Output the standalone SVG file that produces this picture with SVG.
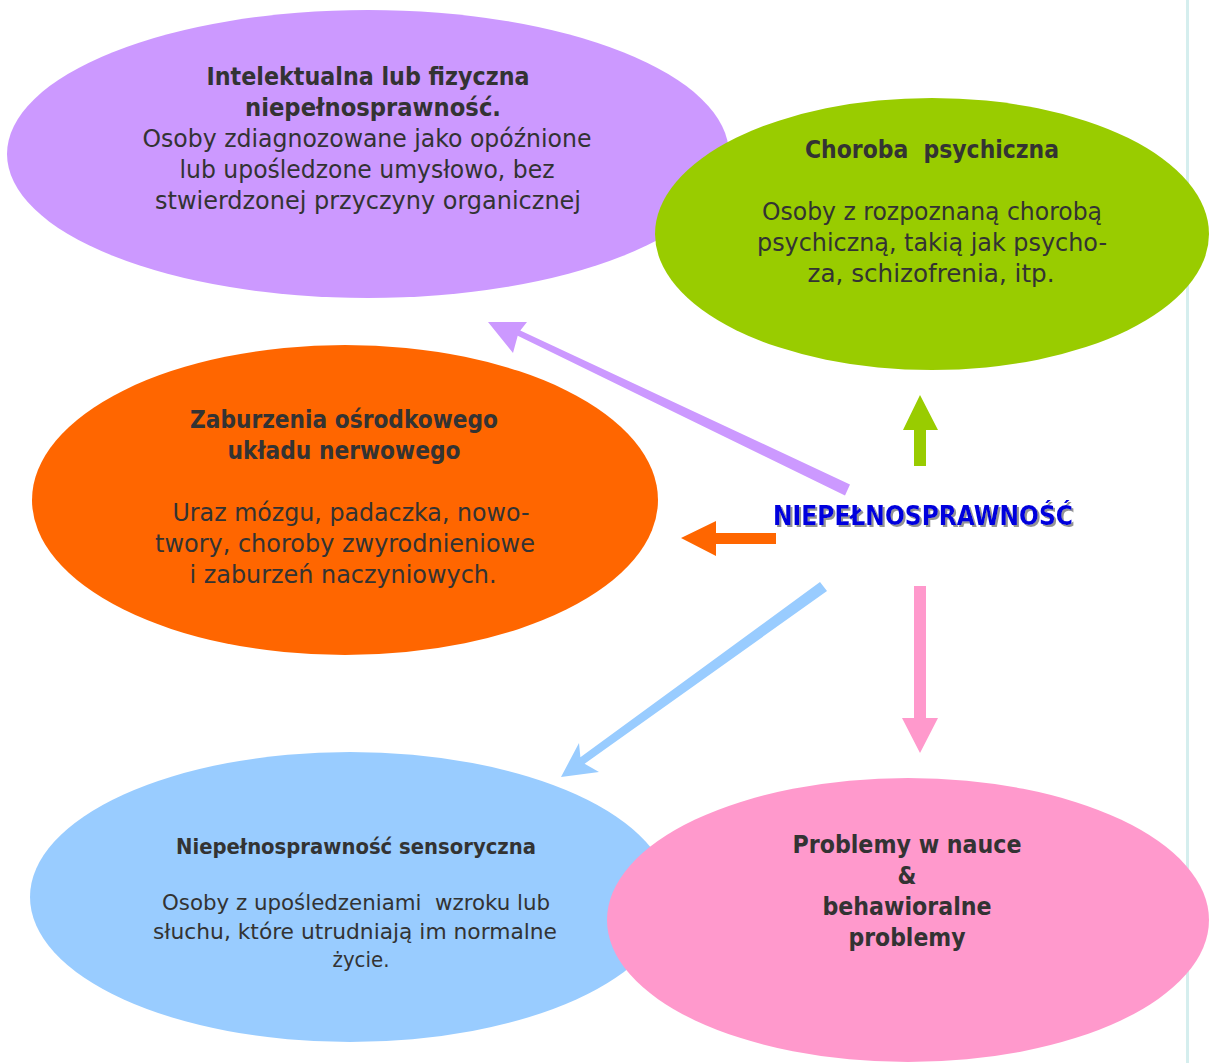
<svg xmlns="http://www.w3.org/2000/svg" width="1210" height="1063" viewBox="0 0 1210 1063">
  <defs>
    <style>
      .t { font-family: "DejaVu Sans Condensed", "DejaVu Sans", sans-serif; fill: #333333; text-anchor: middle; }
      .b { font-weight: bold; }
      .s24 { font-size: 24px; }
      .s25 { font-size: 25px; }
      .s21 { font-size: 21px; }
      .s22 { font-size: 22px; }
      .center { font-family: "DejaVu Sans Condensed", "DejaVu Sans", sans-serif; font-weight: bold; font-size: 26px; fill: #0000dd; text-anchor: middle; }
    </style>
    <filter id="shadow" x="-10%" y="-30%" width="120%" height="160%">
      <feDropShadow dx="2" dy="2" stdDeviation="0.6" flood-color="#888888" flood-opacity="0.9"/>
    </filter>
  </defs>
  <rect x="0" y="0" width="1210" height="1063" fill="#ffffff"/>
  <line x1="1187.5" y1="0" x2="1187.5" y2="1063" stroke="#d5eeee" stroke-width="3"/>

  <g id="node-intelektualna">
    <ellipse cx="368" cy="154" rx="361" ry="144" fill="#cc99ff"/>
    <text class="t b s24" x="368" y="85" textLength="323" lengthAdjust="spacingAndGlyphs">Intelektualna lub fizyczna</text>
    <text class="t b s24" x="373" y="116" textLength="256" lengthAdjust="spacingAndGlyphs">niepełnosprawność.</text>
    <text class="t s25" x="367" y="147" textLength="449" lengthAdjust="spacingAndGlyphs">Osoby zdiagnozowane jako opóźnione</text>
    <text class="t s25" x="367" y="178" textLength="375" lengthAdjust="spacingAndGlyphs">lub upośledzone umysłowo, bez</text>
    <text class="t s25" x="368" y="209" textLength="426" lengthAdjust="spacingAndGlyphs">stwierdzonej przyczyny organicznej</text>
  </g>

  <g id="node-choroba">
    <ellipse cx="932" cy="234" rx="277" ry="136" fill="#99cc00"/>
    <text class="t b s24" x="932" y="158" xml:space="preserve" textLength="254" lengthAdjust="spacingAndGlyphs">Choroba  psychiczna</text>
    <text class="t s25" x="932" y="220" textLength="340" lengthAdjust="spacingAndGlyphs">Osoby z rozpoznaną chorobą</text>
    <text class="t s25" x="932" y="251" textLength="350" lengthAdjust="spacingAndGlyphs">psychiczną, takią jak psycho-</text>
    <text class="t s25" x="931" y="282" textLength="247" lengthAdjust="spacingAndGlyphs">za, schizofrenia, itp.</text>
  </g>

  <g id="node-zaburzenia">
    <ellipse cx="345" cy="500" rx="313" ry="155" fill="#ff6600"/>
    <text class="t b s24" x="344" y="428" textLength="308" lengthAdjust="spacingAndGlyphs">Zaburzenia ośrodkowego</text>
    <text class="t b s24" x="344" y="459" textLength="233" lengthAdjust="spacingAndGlyphs">układu nerwowego</text>
    <text class="t s25" x="351" y="521" textLength="357" lengthAdjust="spacingAndGlyphs">Uraz mózgu, padaczka, nowo-</text>
    <text class="t s25" x="345" y="552" textLength="380" lengthAdjust="spacingAndGlyphs">twory, choroby zwyrodnieniowe</text>
    <text class="t s25" x="343" y="583" textLength="307" lengthAdjust="spacingAndGlyphs">i zaburzeń naczyniowych.</text>
  </g>

  <g id="node-sensoryczna">
    <ellipse cx="350" cy="897" rx="320" ry="145" fill="#99ccff"/>
    <text class="t b s21" x="356" y="854" textLength="360" lengthAdjust="spacingAndGlyphs">Niepełnosprawność sensoryczna</text>
    <text class="t s22" x="356" y="910" xml:space="preserve" textLength="388" lengthAdjust="spacingAndGlyphs">Osoby z upośledzeniami  wzroku lub</text>
    <text class="t s22" x="355" y="939" textLength="404" lengthAdjust="spacingAndGlyphs">słuchu, które utrudniają im normalne</text>
    <text class="t s22" x="361" y="967">życie.</text>
  </g>

  <g id="node-problemy">
    <ellipse cx="908" cy="920" rx="301" ry="142" fill="#ff99cc"/>
    <text class="t b s24" x="907" y="853" textLength="229" lengthAdjust="spacingAndGlyphs">Problemy w nauce</text>
    <text class="t b s24" x="907" y="884">&amp;</text>
    <text class="t b s24" x="907" y="915" textLength="169" lengthAdjust="spacingAndGlyphs">behawioralne</text>
    <text class="t b s24" x="907" y="946" textLength="117" lengthAdjust="spacingAndGlyphs">problemy</text>
  </g>

  <g id="node-center">
    <text class="center" x="923" y="525" filter="url(#shadow)" textLength="300" lengthAdjust="spacingAndGlyphs">NIEPEŁNOSPRAWNOŚĆ</text>
  </g>

  <g id="connectors">
    <polygon fill="#cc99ff" points="850,484.5 520.3,330.4 527,322 488,322 513,353 517.7,335.8 845,495.5"/>
    <polygon fill="#99cc00" points="914,466 914,430 903,430 920,395 938,430 926,430 926,466"/>
    <polygon fill="#ff6600" points="776,533 716,533 716,521 681,538 716,556 716,544 776,544"/>
    <polygon fill="#ff99cc" points="914,586 926,586 926,718 938,718 920,753 902,718 914,718"/>
    <polygon fill="#99ccff" points="827,591 584.6,763.8 599,772 561,777 579,743 580.4,757.2 820,582"/>
  </g>
</svg>
